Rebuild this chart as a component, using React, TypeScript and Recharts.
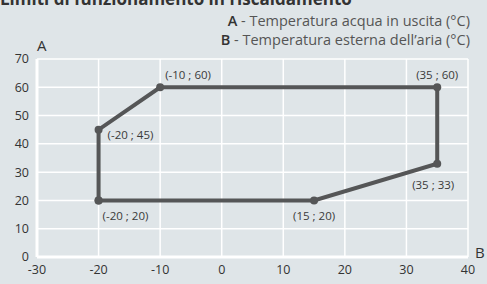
import { CartesianGrid, LabelList, Line, LineChart, XAxis, YAxis } from "recharts";

// outline of the operating envelope, in drawing order (closed)
const outsideTemp = [-20, -20, -10, 35, 35, 15, -20];
const waterTemp = [20, 45, 60, 60, 33, 20, 20];
const pointLabels = ["(-20 ; 20)", "(-20 ; 45)", "(-10 ; 60)", "(35 ; 60)", "(35 ; 33)", "(15 ; 20)", ""];

const xTicks = [-30, -20, -10, 0, 10, 20, 30, 40];
const yTicks = [0, 10, 20, 30, 40, 50, 60, 70];

const title = "Limiti di funzionamento in riscaldamento";
const legendA = "Temperatura acqua in uscita (°C)";
const legendB = "Temperatura esterna dell’aria (°C)";

const data = outsideTemp.map((x, i) => ({ x, y: waterTemp[i], label: pointLabels[i] }));

const FONT = "'Open Sans', Lato, sans-serif";
const BG = "#dfe5e8";
const INK = "#555657";

// where each label sits relative to its point: [dx, dy, anchor]
const labelPlace: [number, number, string][] = [
  [4, 20, "start"],
  [9, 9, "start"],
  [5, -8, "start"],
  [0, -8, "middle"],
  [-4, 25, "middle"],
  [0, 20, "middle"],
  [0, 0, "middle"],
];

function PointLabel(props: any) {
  const { x, y, value, index } = props;
  if (!value) return null;
  const [dx, dy, anchor] = labelPlace[index];
  return (
    <text x={x + dx} y={y + dy} textAnchor={anchor} fontSize={11.5} fill="#3a3a3a" fontFamily={FONT}>
      {value}
    </text>
  );
}

export default function App() {
  return (
    <div style={{ position: "absolute", left: 0, top: 0, width: 487, height: 284, background: BG, overflow: "hidden", fontFamily: FONT }}>
      <div style={{ position: "absolute", left: 0, top: -13, fontSize: 17, fontWeight: 700, color: "#333", whiteSpace: "nowrap" }}>
        {title}
      </div>
      <div style={{ position: "absolute", right: 17, top: 11, fontSize: 14.5, color: "#555", whiteSpace: "nowrap", textAlign: "right", lineHeight: "19px" }}>
        <div><b style={{ color: "#333", fontWeight: 600 }}>A</b> - {legendA}</div>
        <div><b style={{ color: "#333", fontWeight: 600 }}>B</b> - {legendB}</div>
      </div>
      <div style={{ position: "absolute", left: 37, top: 35, fontSize: 15, color: "#333" }}>A</div>
      <div style={{ position: "absolute", left: 475, top: 242, fontSize: 15, color: "#333" }}>B</div>
      <div style={{ position: "absolute", left: 0, top: 0 }}>
        <LineChart width={487} height={284} data={data} margin={{ top: 59, right: 19, bottom: 0, left: 7 }}>
          <CartesianGrid stroke="#ffffff" strokeWidth={1.5} />
          <XAxis
            dataKey="x"
            type="number"
            domain={[-30, 40]}
            ticks={xTicks}
            height={27}
            tickLine={false}
            axisLine={{ stroke: "#ffffff", strokeWidth: 3 }}
            tick={{ fill: "#333", fontSize: 12.5, fontFamily: FONT }}
          />
          <YAxis
            dataKey="y"
            type="number"
            domain={[0, 70]}
            ticks={yTicks}
            width={30}
            tickLine={false}
            axisLine={{ stroke: "#ffffff", strokeWidth: 3 }}
            tick={{ fill: "#333", fontSize: 12.5, fontFamily: FONT }}
          />
          <Line
            dataKey="y"
            stroke={INK}
            strokeWidth={4}
            dot={{ r: 4, fill: INK, stroke: INK, strokeWidth: 0 }}
            isAnimationActive={false}
          >
            <LabelList dataKey="label" content={PointLabel} />
          </Line>
        </LineChart>
      </div>
    </div>
  );
}
